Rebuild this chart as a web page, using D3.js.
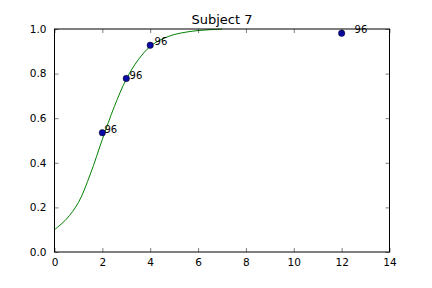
<!DOCTYPE html>
<html>
<head>
<meta charset="utf-8">
<script src="https://cdn.jsdelivr.net/npm/d3@7"></script>
<style>
  body { margin: 0; background: #fff; }
  svg { display: block; }
  text { font-family: "DejaVu Sans", sans-serif; fill: #000; }
</style>
</head>
<body>
<svg id="chart" width="432" height="288"></svg>
<script>
// observed points
const pointX = [2, 3, 4, 12]
const pointY = [0.535, 0.778, 0.927, 0.981]
const pointLabels = ["96", "96", "96", "96"]

// fitted curve
const curveX = [0, 0.5, 1, 1.5, 2, 2.5, 3, 3.5, 4, 4.5, 5, 5.5, 6, 6.5, 7]
const curveY = [0.10, 0.148, 0.222, 0.35, 0.505, 0.652, 0.775, 0.862, 0.922, 0.955, 0.975, 0.986, 0.993, 0.997, 0.999]

const xTicks = [0, 2, 4, 6, 8, 10, 12, 14]
const yTicks = [0, 0.2, 0.4, 0.6, 0.8, 1.0]

const svg = d3.select("#chart")
const plotLeft = 54.5, plotRight = 389.5, plotTop = 29, plotBottom = 252

const x = d3.scaleLinear().domain([0, 14]).range([plotLeft, plotRight])
const y = d3.scaleLinear().domain([0, 1]).range([plotBottom, plotTop])

// curve
const line = d3.line()
    .x((d, i) => x(curveX[i]))
    .y((d, i) => y(curveY[i]))
    .curve(d3.curveCatmullRom)

svg.append("path")
    .datum(curveY)
    .attr("d", line)
    .attr("fill", "none")
    .attr("stroke", "#008000")
    .attr("stroke-width", 1)

// points
svg.append("g")
    .selectAll("circle")
    .data(pointX)
    .enter()
    .append("circle")
        .attr("cx", (d) => x(d))
        .attr("cy", (d, i) => y(pointY[i]))
        .attr("r", 3.2)
        .attr("fill", "#0a0aa8")
        .attr("stroke", "#000")
        .attr("stroke-width", 0.5)

// annotations, nudged right by a few percent like the original
svg.append("g")
    .selectAll("text")
    .data(pointX)
    .enter()
    .append("text")
        .attr("x", (d) => x(d * 1.045))
        .attr("y", (d, i) => y(pointY[i]))
        .attr("font-size", 10)
        .text((d, i) => pointLabels[i])

// axes, ticks inward on all four sides
const fmtY = d3.format(".1f")
const bottomAxis = d3.axisBottom(x).tickValues(xTicks).tickSizeInner(-4).tickSizeOuter(0).tickPadding(7)
const leftAxis = d3.axisLeft(y).tickValues(yTicks).tickFormat(fmtY).tickSizeInner(-4).tickSizeOuter(0).tickPadding(8)
const topAxis = d3.axisTop(x).tickValues(xTicks).tickSizeInner(-4).tickSizeOuter(0).tickFormat("")
const rightAxis = d3.axisRight(y).tickValues(yTicks).tickSizeInner(-4).tickSizeOuter(0).tickFormat("")

const styleAxis = (g) => {
    g.select(".domain").remove()
    g.selectAll(".tick line").attr("stroke", "#000").attr("stroke-width", 0.5)
    g.selectAll(".tick text").attr("font-size", 10.5).attr("font-family", "DejaVu Sans").attr("fill", "#000")
}

svg.append("g").attr("transform", `translate(0,${plotBottom})`).call(bottomAxis).call(styleAxis)
svg.append("g").attr("transform", `translate(${plotLeft},0)`).call(leftAxis).call(styleAxis)
svg.append("g").attr("transform", `translate(0,${plotTop})`).call(topAxis).call(styleAxis)
svg.append("g").attr("transform", `translate(${plotRight},0)`).call(rightAxis).call(styleAxis)

// frame
svg.append("rect")
    .attr("x", plotLeft)
    .attr("y", plotTop)
    .attr("width", plotRight - plotLeft)
    .attr("height", plotBottom - plotTop)
    .attr("fill", "none")
    .attr("stroke", "#000")
    .attr("stroke-width", 1)

// title
svg.append("text")
    .attr("x", (plotLeft + plotRight) / 2)
    .attr("y", 24)
    .attr("text-anchor", "middle")
    .attr("font-size", 13)
    .text("Subject 7")
</script>
</body>
</html>
